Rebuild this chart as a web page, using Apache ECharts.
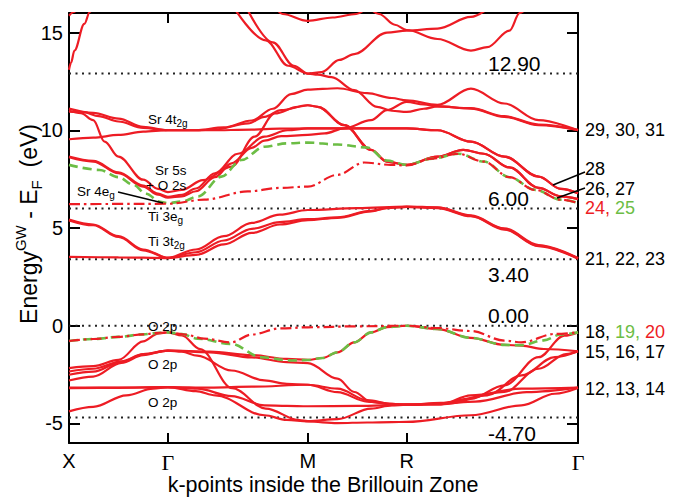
<!DOCTYPE html>
<html><head><meta charset="utf-8">
<script src="https://cdn.jsdelivr.net/npm/echarts@6/dist/echarts.min.js"></script>
<style>html,body{margin:0;padding:0;background:#fff}#c{width:679px;height:498px}</style>
</head><body><div id="c"></div>
<script>
// k-path nodes (cumulative |k| distance, units of 2pi/a): X, Gamma, M, R, Gamma
const kNodes = [0, 0.5, 1.2071, 1.7071, 2.5731];
const kLabels = ['X', 'Γ', 'M', 'R', 'Γ'];
const yTicks = [-5, 0, 5, 10, 15];
const refLevels = [12.9, 6.0, 3.4, 0.0, -4.7];
const refLabels = ['12.90', '6.00', '3.40', '0.00', '-4.70'];

// Each band: [path position (segment index + fraction), energy eV]
// ---- valence (O 2p) ----
const vb20 = [[0,-0.78],[0.25,-0.68],[0.5,-0.57],[0.75,-0.44],[0.92,-0.36],[1,-0.34],[1.12,-0.45],[1.26,-0.66],[1.45,-0.85],[1.6,-0.45],[1.8,-0.14],[2,-0.08],[2.5,-0.03],[3,0],[3.18,-0.12],[3.375,-0.27],[3.57,-0.76],[3.67,-0.85],[3.865,-0.42],[4,-0.34]];
const vb19 = [[0,-0.78],[0.25,-0.68],[0.5,-0.57],[0.75,-0.44],[0.92,-0.36],[1,-0.34],[1.1,-0.42],[1.21,-0.66],[1.45,-0.93],[1.67,-1.61],[1.88,-1.78],[2,-1.75],[2.15,-1.65],[2.3,-1.36],[2.47,-0.85],[2.64,-0.34],[2.8,-0.07],[3,0],[3.18,-0.17],[3.375,-0.62],[3.57,-0.98],[3.67,-1.0],[3.8,-0.75],[3.9,-0.45],[4,-0.34]];
const vb18 = [[0,-2.17],[0.245,-2.07],[0.5,-1.75],[0.75,-0.8],[0.9,-0.4],[1,-0.34],[1.1,-0.5],[1.23,-1.2],[1.46,-3.2],[1.7,-4.24],[1.94,-4.83],[2,-4.88],[2.3,-4.78],[2.64,-4.24],[2.85,-4.08],[3,-4.04],[3.2,-3.98],[3.4,-3.88],[3.7,-3.4],[4,-3.17]];
const vb17 = [[0,-2.34],[0.245,-2.2],[0.53,-1.82],[0.75,-1.45],[1,-1.27],[1.3,-1.32],[1.6,-1.5],[1.85,-1.7],[2,-1.75],[2.15,-1.65],[2.3,-1.36],[2.47,-0.85],[2.64,-0.34],[2.8,-0.07],[3,0],[3.18,-0.17],[3.375,-0.62],[3.57,-0.98],[3.67,-1.02],[3.8,-1.19],[4,-1.31]];
const vb16 = [[0,-2.51],[0.245,-2.35],[0.53,-1.85],[0.75,-1.47],[1,-1.27],[1.3,-1.36],[1.6,-1.62],[1.85,-1.86],[2,-1.91],[2.3,-2.71],[2.47,-3.39],[2.64,-3.9],[2.85,-4.0],[3,-4.04],[3.2,-3.95],[3.375,-3.73],[3.57,-3.05],[3.77,-1.61],[3.92,-0.51],[4,-0.34]];
const vb15 = [[0,-2.8],[0.245,-2.6],[0.53,-1.9],[0.75,-1.5],[1,-1.27],[1.1,-1.33],[1.21,-1.53],[1.455,-2.29],[1.69,-2.8],[1.85,-2.97],[2,-3.02],[2.3,-3.22],[2.6,-3.8],[2.85,-4.0],[3,-4.04],[3.2,-4.0],[3.47,-3.56],[3.67,-2.54],[3.865,-1.61],[4,-1.31]];
const vb14 = [[0,-3.17],[0.5,-3.16],[1,-3.14],[1.3,-3.17],[1.6,-3.12],[2,-3.02],[2.3,-3.4],[2.6,-3.88],[2.85,-4.02],[3,-4.04],[3.2,-4.02],[3.57,-3.39],[3.77,-2.2],[3.93,-1.45],[4,-1.31]];
const vb13 = [[0,-3.2],[0.5,-3.18],[1,-3.14],[1.21,-3.22],[1.455,-3.6],[1.69,-4.07],[1.85,-4.1],[2,-4.12],[2.5,-4.1],[3,-4.04],[3.2,-4.02],[3.375,-3.56],[3.67,-3.22],[4,-3.17]];
const vb12 = [[0,-4.38],[0.245,-4.15],[0.58,-3.56],[0.85,-3.22],[1,-3.14],[1.2,-3.35],[1.34,-3.56],[1.69,-4.58],[1.85,-4.82],[2,-4.9],[2.3,-4.98],[2.6,-4.95],[2.85,-4.93],[3,-4.92],[3.375,-4.58],[3.67,-4.07],[3.865,-3.48],[4,-3.19]];
// ---- conduction ----
const cb21 = [[0,3.52],[0.5,3.5],[1,3.46],[1.2,3.62],[1.4,4.16],[1.6,4.75],[1.8,5.18],[2,5.4],[2.3,5.52],[2.64,5.85],[2.8,6.02],[3,6.08],[3.18,6.02],[3.375,5.6],[3.57,4.92],[3.77,4.07],[4,3.43]];
const cb22 = [[0,5.43],[0.245,5.18],[0.5,4.58],[0.75,3.9],[1,3.48],[1.2,3.9],[1.4,4.58],[1.6,5.26],[1.8,5.68],[2,5.92],[2.5,6.02],[3,6.1],[3.18,6.06],[3.375,5.65],[3.57,4.98],[3.77,4.13],[4,3.46]];
const cb23 = [[0,5.39],[0.245,5.14],[0.5,4.54],[0.75,3.86],[1,3.47],[1.2,3.76],[1.4,4.36],[1.6,4.96],[1.8,5.3],[2,5.45],[2.3,5.55],[2.64,5.88],[2.8,6.03],[3,6.08],[3.18,6.04],[3.375,5.62],[3.57,4.95],[3.77,4.1],[4,3.44]];
const cb24 = [[0,6.22],[0.5,6.23],[1,6.24],[1.26,6.45],[1.57,6.87],[1.8,7.05],[2,7.12],[2.3,7.72],[2.57,8.35],[2.84,8.23],[3,8.2],[3.15,8.55],[3.3,8.8],[3.45,8.4],[3.6,7.6],[3.75,6.95],[3.9,6.45],[4,6.28]];
const cb25 = [[0,8.23],[0.31,7.97],[0.5,7.6],[0.65,7.21],[0.78,6.75],[0.92,6.34],[1,6.27],[1.1,6.35],[1.217,6.62],[1.383,7.63],[1.526,8.48],[1.69,9.16],[1.85,9.33],[2,9.37],[2.3,9.27],[2.6,9.12],[2.8,8.45],[3,8.23],[3.15,8.55],[3.3,8.8],[3.45,8.4],[3.6,7.6],[3.75,6.95],[3.9,6.45],[4,6.28]];
const cb26 = [[0,8.62],[0.245,8.4],[0.5,7.8],[0.75,7.12],[0.9,6.7],[1,6.55],[1.1,6.62],[1.2,6.88],[1.336,7.6],[1.455,8.31],[1.6,9.1],[1.69,9.47],[1.81,9.7],[2,9.76],[2.17,9.84],[2.37,10.1],[2.64,10.52],[2.8,11.03],[3,11.45],[3.1,11.32],[3.18,11.22],[3.375,11.11],[3.57,10.69],[3.77,10.26],[4,10.0]];
const cb27 = [[0,8.66],[0.245,8.44],[0.5,7.85],[0.75,7.17],[0.9,6.76],[1,6.6],[1.1,6.7],[1.2,7.02],[1.336,7.8],[1.5,8.8],[1.69,9.67],[1.855,10.0],[2,10.1],[2.5,10.1],[3,10.1],[3.18,10.0],[3.375,9.42],[3.57,8.65],[3.77,7.63],[3.9,7.0],[4,6.78]];
const cb28 = [[0,11.0],[0.12,10.88],[0.245,10.52],[0.36,9.42],[0.5,8.65],[0.75,7.47],[0.9,7.0],[1,6.84],[1.1,6.95],[1.25,7.45],[1.455,8.14],[1.62,9.67],[1.764,10.86],[1.93,11.2],[2,11.28],[2.1,11.2],[2.37,10.26],[2.64,9.0],[2.8,8.4],[3,8.23],[3.18,8.65],[3.33,9.0],[3.45,8.8],[3.6,8.1],[3.77,7.05],[3.9,6.62],[4,6.48]];
const cb29 = [[0,11.11],[0.245,10.89],[0.5,10.6],[0.75,10.18],[1,10.0],[1.2,10.0],[1.4,10.15],[1.6,10.5],[1.75,11.1],[1.88,11.85],[2,12.08],[2.3,12.15],[2.6,11.9],[2.85,11.65],[3,11.53],[3.18,11.3],[3.375,12.13],[3.57,11.37],[3.77,10.52],[4,10.0]];
const cb30 = [[0,10.95],[0.15,10.93],[0.3,10.72],[0.5,10.45],[0.75,10.12],[1,10.0],[1.2,10.0],[1.336,10.04],[1.574,10.35],[1.69,10.69],[1.81,11.03],[2,11.28],[2.1,11.2],[2.37,10.26],[2.64,9.0],[2.8,8.4],[3,8.23],[3.18,8.65],[3.33,9.0],[3.45,8.8],[3.6,8.1],[3.77,7.05],[3.9,6.62],[4,6.48]];
const cb31 = [[0,9.54],[0.245,9.62],[0.5,9.76],[0.75,9.93],[1,10.0],[1.3,10.0],[1.6,10.03],[1.8,10.08],[2,10.1],[2.5,10.1],[3,10.1],[3.18,10.0],[3.375,9.42],[3.57,8.65],[3.77,7.63],[3.9,7.0],[4,6.78]];
const cb32 = [[1.56,16.3],[1.75,14.5],[1.9,13.3],[2,12.9],[2.1,12.85],[2.24,12.72],[2.47,12.05],[2.7,11.2],[2.85,11.0],[3,10.94],[3.1,11.1],[3.18,11.22],[3.375,11.13],[3.57,10.72],[3.77,10.29],[4,10.02]];
const cb33 = [[1.47,16.3],[1.7,14.6],[1.86,13.3],[2,12.9],[2.14,12.98],[2.32,13.6],[2.47,13.9],[2.8,15.0],[3,15.1],[3.18,15.2],[3.375,15.8],[3.5,16.4]];
const cb34 = [[2.6,16.4],[2.72,15.95],[2.88,15.4],[3,15.13],[3.18,14.67],[3.375,14.08],[3.47,14.25],[3.6,15.1],[3.66,16.0],[3.72,16.5]];
const cb35 = [[1.76,16.4],[1.82,15.95],[2,15.6],[2.25,15.77],[2.49,15.95],[2.6,16.3]];
const cb36 = [[0,13.1],[0.02,13.45],[0.055,14.08],[0.155,15.44],[0.21,16.05],[0.25,16.5]];
const cb37 = [[0,15.86],[0.05,16.05],[0.1,16.4]];

const redBands = [vb18, vb17, vb16, vb15, vb14, vb13, vb12,
  cb21, cb22, cb23, cb26, cb27, cb28, cb29, cb30, cb31, cb32, cb33, cb34, cb35, cb36, cb37];
const dashDotBands = [vb20, cb24];
const greenBands = [vb19, cb25];

const RED = '#ed1c24', GREEN = '#6cbd45';
const SANS = 'Liberation Sans, Arial, Helvetica, sans-serif';

function toK(p) {
  const s = Math.min(3, Math.floor(p));
  return kNodes[s] + (p - s) * (kNodes[s + 1] - kNodes[s]);
}
function bandSeries(d, lineStyle, z) {
  return { type: 'line', data: d.map(q => [toK(q[0]), q[1]]), symbol: 'none', smooth: 0.35,
    smoothMonotone: 'x', lineStyle, silent: true, z, xAxisIndex: 0, yAxisIndex: 0 };
}
const series = [];
refLevels.forEach(v => series.push({ type: 'line', data: [[kNodes[0], v], [kNodes[4], v]], symbol: 'none',
  lineStyle: { color: '#222', width: 2, type: [2, 4.5] }, silent: true, z: 1 }));
redBands.forEach(b => series.push(bandSeries(b, { color: RED, width: 2.2 }, 2)));
greenBands.forEach(b => series.push(bandSeries(b, { color: GREEN, width: 2.6, type: [9, 5] }, 3)));
dashDotBands.forEach(b => series.push(bandSeries(b, { color: RED, width: 2.2, type: [11, 4, 2.5, 4] }, 4)));

function txt(x, y, text, o) {
  return Object.assign({ type: 'text', x, y, silent: true, z: 100,
    style: Object.assign({ text, fill: '#000', fontSize: 13.5, fontFamily: SANS, align: 'left', verticalAlign: 'middle' }, o || {}) });
}
const subRich = { n: { fontSize: 13.5, fontFamily: SANS, fill: '#000' }, s: { fontSize: 10, fontFamily: SANS, fill: '#000', padding: [9, 0, 0, 0] } };
const colRich = { k: { fontSize: 18, fontFamily: SANS, fill: '#000' }, g: { fontSize: 18, fontFamily: SANS, fill: GREEN }, r: { fontSize: 18, fontFamily: SANS, fill: RED } };

const refLabelY = [63, 198, 274, 315, 433];
const graphics = [];
refLabels.forEach((t, i) => graphics.push(txt(488, refLabelY[i], t, { fontSize: 21 })));
graphics.push(txt(585, 130, '29, 30, 31', { fontSize: 18 }));
graphics.push(txt(585, 169, '28', { fontSize: 18 }));
graphics.push(txt(585, 188.5, '26, 27', { fontSize: 18 }));
graphics.push(txt(585, 208, '{r|24, }{g|25}', { rich: colRich }));
graphics.push(txt(585, 259, '21, 22, 23', { fontSize: 18 }));
graphics.push(txt(585, 332, '{k|18, }{g|19, }{r|20}', { rich: colRich }));
graphics.push(txt(585, 352, '15, 16, 17', { fontSize: 18 }));
graphics.push(txt(585, 389, '12, 13, 14', { fontSize: 18 }));
graphics.push({ type: 'line', silent: true, z: 100, shape: { x1: 585, y1: 172, x2: 553, y2: 185 }, style: { stroke: '#000', lineWidth: 1.5 } });
graphics.push({ type: 'line', silent: true, z: 100, shape: { x1: 585, y1: 188, x2: 557, y2: 198 }, style: { stroke: '#000', lineWidth: 1.5 } });
graphics.push(txt(148, 119, '{n|Sr 4t}{s|2g}', { rich: subRich }));
graphics.push(txt(155, 170.5, 'Sr 5s'));
graphics.push(txt(146, 185, '+ O 2s'));
graphics.push(txt(77, 191, '{n|Sr 4e}{s|g}', { rich: subRich }));
graphics.push({ type: 'line', silent: true, z: 100, shape: { x1: 118, y1: 192, x2: 163, y2: 203 }, style: { stroke: '#000', lineWidth: 1.5 } });
graphics.push(txt(148, 216, '{n|Ti 3e}{s|g}', { rich: subRich }));
graphics.push(txt(148, 241, '{n|Ti 3t}{s|2g}', { rich: subRich }));
graphics.push(txt(148, 326, 'O 2p'));
graphics.push(txt(148, 364, 'O 2p'));
graphics.push(txt(148, 402, 'O 2p'));
graphics.push(txt(323, 485, 'k-points inside the Brillouin Zone', { fontSize: 21.5, align: 'center' }));
graphics.push(Object.assign(txt(29, 224, '{m|Energy}{p|GW}{m| - E}{b|F}{m|  (eV)}', {
  align: 'center',
  rich: { m: { fontSize: 23, fontFamily: SANS, fill: '#000' },
          p: { fontSize: 15, fontFamily: SANS, fill: '#000', padding: [0, 0, 18, 0] },
          b: { fontSize: 15, fontFamily: SANS, fill: '#000', padding: [14, 0, 0, 0] } }
}), { rotation: Math.PI / 2 }));

const axisLine = { show: true, onZero: false, lineStyle: { color: '#000', width: 2 } };
const tickStyle = { color: '#000', width: 2 };
function nodeName(v) {
  let bi = 0; kNodes.forEach((k, i) => { if (Math.abs(k - v) < Math.abs(kNodes[bi] - v)) bi = i; });
  return kLabels[bi] === 'Γ' ? '{g|Γ}' : kLabels[bi];
}
const option = {
  animation: false,
  grid: { left: 69, right: 101, top: 13, bottom: 55 },
  xAxis: [
    { type: 'value', min: 0, max: kNodes[4], position: 'bottom', axisLine,
      axisTick: { show: true, inside: true, length: 10, customValues: kNodes, lineStyle: tickStyle },
      axisLabel: { show: true, customValues: kNodes, formatter: nodeName, fontSize: 20, color: '#000', fontFamily: SANS, margin: 8,
        rich: { g: { fontSize: 22, fontFamily: 'Liberation Serif, Times New Roman, serif', color: '#000' } } },
      splitLine: { show: false } },
    { type: 'value', min: 0, max: kNodes[4], position: 'top', axisLine,
      axisTick: { show: true, inside: true, length: 10, customValues: kNodes, lineStyle: tickStyle },
      axisLabel: { show: false }, splitLine: { show: false } }
  ],
  yAxis: [
    { type: 'value', min: -6, max: 16, position: 'left', axisLine,
      axisTick: { show: true, inside: true, length: 11, customValues: yTicks, lineStyle: tickStyle },
      axisLabel: { show: true, customValues: yTicks, fontSize: 20, color: '#000', fontFamily: SANS, margin: 6 },
      splitLine: { show: false } },
    { type: 'value', min: -6, max: 16, position: 'right', axisLine,
      axisTick: { show: true, inside: true, length: 11, customValues: yTicks, lineStyle: tickStyle },
      axisLabel: { show: false }, splitLine: { show: false } }
  ],
  series,
  graphic: graphics
};
const chart = echarts.init(document.getElementById('c'), null, { renderer: 'svg', width: 679, height: 498 });
chart.setOption(option);
</script>
</body></html>
